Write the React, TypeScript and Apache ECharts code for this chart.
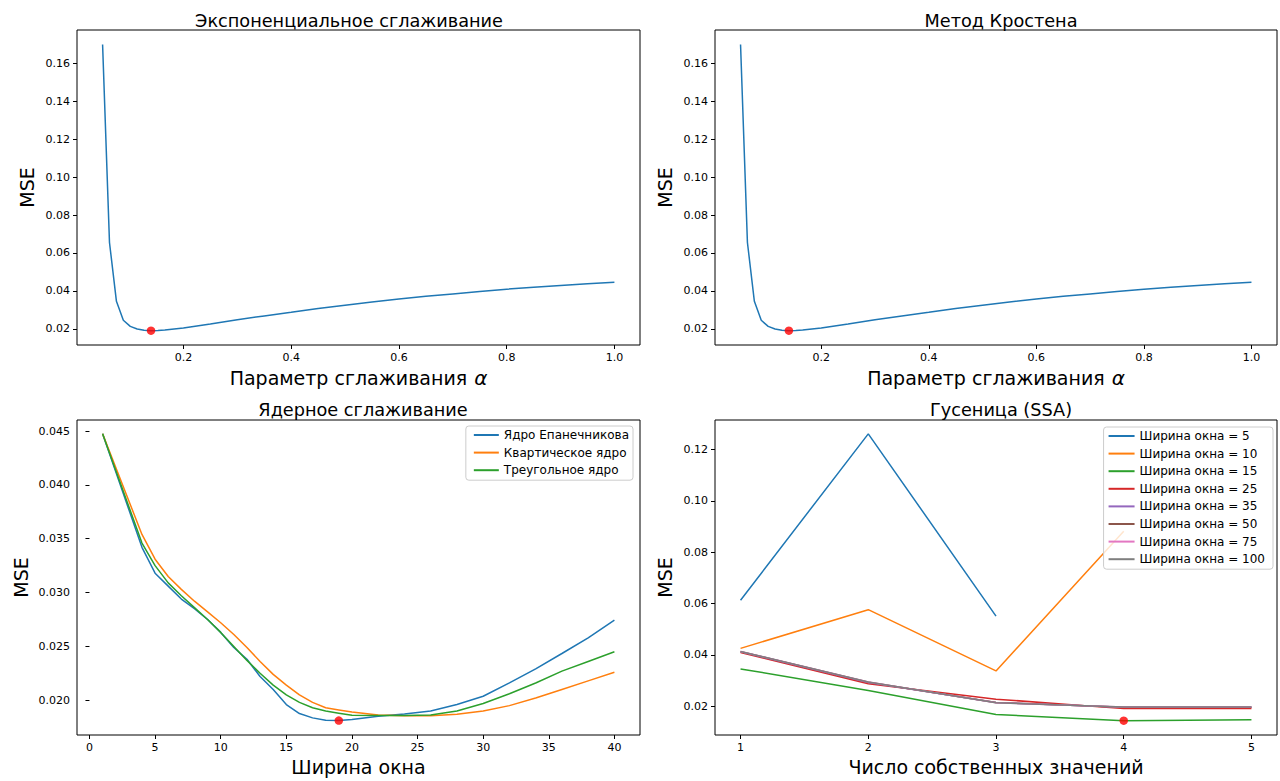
import React, { useEffect, useRef } from "react";
import * as echarts from "echarts";

// ---------- Data ----------
const alphaValues = [0.05, 0.0628, 0.0757, 0.0885, 0.1014, 0.1142, 0.127, 0.1399, 0.1527, 0.1655, 0.2, 0.25, 0.3, 0.35, 0.4, 0.45, 0.5, 0.55, 0.6, 0.65, 0.7, 0.75, 0.8, 0.85, 0.9, 0.95, 1.0];
const expMse = [0.170, 0.0655, 0.0345, 0.0245, 0.0213, 0.0199, 0.0192, 0.0190, 0.0191, 0.0194, 0.0204, 0.0225, 0.0248, 0.0268, 0.0287, 0.0307, 0.0324, 0.0341, 0.0357, 0.0371, 0.0384, 0.0397, 0.0409, 0.0419, 0.0428, 0.0437, 0.0445];
const crostonMse = [0.170, 0.0655, 0.0345, 0.0245, 0.0213, 0.0199, 0.0192, 0.0190, 0.0191, 0.0194, 0.0204, 0.0225, 0.0248, 0.0268, 0.0287, 0.0307, 0.0324, 0.0341, 0.0357, 0.0371, 0.0384, 0.0397, 0.0409, 0.0419, 0.0428, 0.0437, 0.0445];
const expBest = [0.1399, 0.0190];
const crostonBest = [0.1399, 0.0190];

const bandwidths = [1, 4, 5, 6, 7, 8, 9, 10, 11, 12, 13, 14, 15, 16, 17, 18, 19, 20, 22, 24, 26, 28, 30, 32, 34, 36, 38, 40];
const epanechnikovMse = [0.04475, 0.0342, 0.0318, 0.0306, 0.0294, 0.0285, 0.0275, 0.0263, 0.0249, 0.0238, 0.0222, 0.0210, 0.0196, 0.01876, 0.01836, 0.01814, 0.01811, 0.0182, 0.01851, 0.01873, 0.0190, 0.0196, 0.02037, 0.02161, 0.02291, 0.02434, 0.0258, 0.02744];
const quarticMse = [0.04475, 0.0354, 0.0331, 0.0315, 0.0303, 0.0292, 0.0282, 0.0272, 0.0261, 0.0249, 0.0236, 0.0224, 0.0214, 0.0205, 0.0198, 0.0193, 0.0191, 0.0189, 0.01862, 0.01855, 0.01855, 0.0187, 0.0190, 0.0195, 0.0202, 0.0210, 0.0218, 0.0226];
const triangularMse = [0.04475, 0.0346, 0.0325, 0.0309, 0.0297, 0.0286, 0.0275, 0.0263, 0.0250, 0.0237, 0.0225, 0.0214, 0.0205, 0.0198, 0.0193, 0.0190, 0.0188, 0.0186, 0.01858, 0.01858, 0.01862, 0.0190, 0.0197, 0.0206, 0.0216, 0.0227, 0.0236, 0.0245];
const kernelBest = [19, 0.01811];

const eigenCounts = [1, 2, 3, 4, 5];
const ssaNames = ["Ширина окна = 5", "Ширина окна = 10", "Ширина окна = 15", "Ширина окна = 25", "Ширина окна = 35", "Ширина окна = 50", "Ширина окна = 75", "Ширина окна = 100"];
const ssaW5 = [0.0613, 0.1262, 0.0551, null, null];
const ssaW10 = [0.0425, 0.0576, 0.0337, 0.0882, null];
const ssaW15 = [0.0345, 0.0261, 0.0167, 0.0143, 0.0147];
const ssaW25 = [0.0409, 0.0287, 0.0227, 0.0190, 0.0190];
const ssaW35 = [0.0412, 0.0292, 0.0214, 0.0195, 0.0195];
const ssaW50 = [0.0412, 0.0293, 0.0214, 0.0195, 0.0195];
const ssaW75 = [0.0413, 0.0294, 0.0213, 0.0196, 0.0196];
const ssaW100 = [0.0413, 0.0294, 0.0213, 0.0196, 0.0196];
const ssaBest = [4, 0.0143];

const kernelNames = ["Ядро Епанечникова", "Квартическое ядро", "Треугольное ядро"];

const alphaTicks = [0.2, 0.4, 0.6, 0.8, 1.0];
const topMseTicks = [0.02, 0.04, 0.06, 0.08, 0.1, 0.12, 0.14, 0.16];
const bandwidthTicks = [0, 5, 10, 15, 20, 25, 30, 35, 40];
const kernelMseTicks = [0.02, 0.025, 0.03, 0.035, 0.04, 0.045];
const eigenTicks = [1, 2, 3, 4, 5];
const ssaMseTicks = [0.02, 0.04, 0.06, 0.08, 0.1, 0.12];

const COLORS = ["#1f77b4", "#ff7f0e", "#2ca02c", "#d62728", "#9467bd", "#8c564b", "#e377c2", "#7f7f7f"];
const FONT = "DejaVu Sans";
const LABEL_SIZE = 19;

function pairs(xs: number[], ys: (number | null)[]) {
  return xs.map((x, i) => [x, ys[i] === null ? "-" : ys[i]]);
}

function xAxisCfg(gridIndex: number, min: number, max: number, ticks: number[], digits: number, name: any, nameGap: number) {
  return {
    type: "value",
    gridIndex,
    min,
    max,
    name,
    nameLocation: "middle",
    nameGap,
    nameTextStyle: {
      fontFamily: FONT,
      fontSize: LABEL_SIZE,
      color: "#000",
      rich: { a: { fontFamily: FONT, fontSize: 20, fontStyle: "italic", color: "#000", padding: [0, 0, 0, 7] } },
    },
    axisLine: { show: false },
    splitLine: { show: false },
    axisTick: { show: true, length: 4, lineStyle: { color: "#000", width: 1 }, customValues: ticks },
    axisLabel: {
      show: true,
      margin: 7,
      fontFamily: FONT,
      fontSize: 11,
      color: "#000",
      customValues: ticks,
      formatter: (v: number) => v.toFixed(digits),
    },
  };
}

function yAxisCfg(gridIndex: number, min: number, max: number, ticks: number[], digits: number, nameGap: number) {
  return {
    type: "value",
    gridIndex,
    min,
    max,
    name: "MSE",
    nameLocation: "middle",
    nameGap,
    nameTextStyle: { fontFamily: FONT, fontSize: LABEL_SIZE, color: "#000" },
    axisLine: { show: false },
    splitLine: { show: false },
    axisTick: { show: true, length: 4, lineStyle: { color: "#000", width: 1 }, customValues: ticks },
    axisLabel: {
      show: true,
      margin: 7,
      fontFamily: FONT,
      fontSize: 11,
      color: "#000",
      customValues: ticks,
      formatter: (v: number) => v.toFixed(digits),
    },
  };
}

function lineSeries(name: string, idx: number, data: any[], color: string, z = 2) {
  return {
    type: "line",
    name,
    xAxisIndex: idx,
    yAxisIndex: idx,
    data,
    showSymbol: false,
    symbol: "none",
    silent: true,
    z,
    lineStyle: { color, width: 1.5 },
    itemStyle: { color },
    connectNulls: false,
  };
}

function dotSeries(idx: number, point: number[]) {
  return {
    type: "scatter",
    xAxisIndex: idx,
    yAxisIndex: idx,
    data: [point],
    symbol: "circle",
    symbolSize: 8.5,
    silent: true,
    z: 5,
    itemStyle: { color: "#ff0000" },
  };
}

export default function App() {
  const ref = useRef<HTMLDivElement>(null);

  useEffect(() => {
    if (!ref.current) return;
    const chart = echarts.init(ref.current, undefined, { renderer: "svg" });

    const titleStyle = { fontFamily: FONT, fontSize: 17.7, fontWeight: "normal", color: "#000" };
    const grids = [
      { left: 77, top: 30, width: 563, height: 315 },
      { left: 715, top: 30, width: 562, height: 315 },
      { left: 77, top: 420, width: 563, height: 315 },
      { left: 715, top: 420, width: 562, height: 315 },
    ].map((g) => ({ ...g, show: true, borderColor: "#000", borderWidth: 1, backgroundColor: "transparent", containLabel: false }));

    const ssaSeries = [ssaW5, ssaW10, ssaW15, ssaW25, ssaW35, ssaW50, ssaW75, ssaW100];

    const legendCommon = {
      orient: "vertical",
      icon: "rect",
      itemHeight: 2,
      itemGap: 3.6,
      backgroundColor: "rgba(255,255,255,0.8)",
      borderColor: "#cccccc",
      borderWidth: 1,
      borderRadius: 3,
      textStyle: { fontFamily: FONT, fontSize: 12, color: "#000", lineHeight: 14 },
      selectedMode: false,
    };

    const option: any = {
      animation: false,
      backgroundColor: "#fff",
      title: [
        { text: "Экспоненциальное сглаживание", left: 344, top: 7, textAlign: "center", textStyle: titleStyle },
        { text: "Метод Кростена", left: 996, top: 7, textAlign: "center", textStyle: titleStyle },
        { text: "Ядерное сглаживание", left: 358, top: 396, textAlign: "center", textStyle: titleStyle },
        { text: "Гусеница (SSA)", left: 996, top: 396, textAlign: "center", textStyle: titleStyle },
      ],
      grid: grids,
      legend: [
        {
          ...legendCommon,
          data: kernelNames,
          right: 647,
          top: 426,
          itemWidth: 25,
          padding: [2, 4, 3, 8],
        },
        {
          ...legendCommon,
          data: ssaNames,
          right: 7,
          top: 427,
          itemWidth: 26,
          padding: [2, 8, 3, 5],
        },
      ],
      xAxis: [
        xAxisCfg(0, 0.0025, 1.0475, alphaTicks, 1, "Параметр сглаживания{a|α}", 23),
        xAxisCfg(1, 0.0025, 1.0475, alphaTicks, 1, "Параметр сглаживания{a|α}", 23),
        xAxisCfg(2, -0.95, 41.95, bandwidthTicks, 0, "Ширина окна", 22),
        xAxisCfg(3, 0.8, 5.2, eigenTicks, 0, "Число собственных значений", 22),
      ],
      yAxis: [
        yAxisCfg(0, 0.01145, 0.1776, topMseTicks, 2, 41),
        yAxisCfg(1, 0.01145, 0.1776, topMseTicks, 2, 41),
        yAxisCfg(2, 0.01677, 0.04603, kernelMseTicks, 3, 47),
        yAxisCfg(3, 0.00871, 0.1316, ssaMseTicks, 2, 41),
      ],
      series: [
        lineSeries("exp", 0, pairs(alphaValues, expMse), COLORS[0]),
        dotSeries(0, expBest),
        lineSeries("croston", 1, pairs(alphaValues, crostonMse), COLORS[0]),
        dotSeries(1, crostonBest),
        lineSeries(kernelNames[0], 2, pairs(bandwidths, epanechnikovMse), COLORS[0]),
        lineSeries(kernelNames[1], 2, pairs(bandwidths, quarticMse), COLORS[1]),
        lineSeries(kernelNames[2], 2, pairs(bandwidths, triangularMse), COLORS[2]),
        dotSeries(2, kernelBest),
        ...ssaSeries.map((s, i) => lineSeries(ssaNames[i], 3, pairs(eigenCounts, s), COLORS[i])),
        dotSeries(3, ssaBest),
      ],
    };

    chart.setOption(option);
    return () => chart.dispose();
  }, []);

  return (
    <div
      ref={ref}
      style={{ position: "fixed", left: 0, top: 0, width: 1280, height: 781, background: "#fff" }}
    />
  );
}
